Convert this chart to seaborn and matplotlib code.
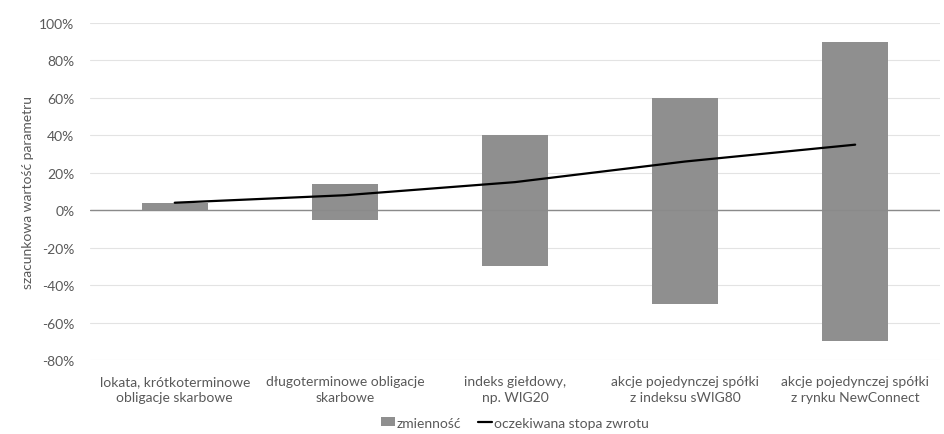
import numpy as np
import pandas as pd
import matplotlib
matplotlib.use("Agg")
import matplotlib.pyplot as plt
from matplotlib.patches import Patch
from matplotlib.lines import Line2D
import seaborn as sns

categories = [
    "lokata, krótkoterminowe\nobligacje skarbowe",
    "długoterminowe obligacje\nskarbowe",
    "indeks giełdowy,\nnp. WIG20",
    "akcje pojedynczej spółki\nz indeksu sWIG80",
    "akcje pojedynczej spółki\nz rynku NewConnect",
]
range_low = [0, -5, -30, -50, -70]
range_high = [4, 14, 40, 60, 90]
expected_return = [4, 8, 15, 26, 35]
y_ticks = [-80, -60, -40, -20, 0, 20, 40, 60, 80, 100]

sns.set_theme(style="white")
plt.rcParams["font.family"] = ["Lato", "DejaVu Sans"]

text_color = "#595959"
bar_color = "#8f8f8f"
fs = 10

df = pd.DataFrame({
    "kategoria": categories,
    "low": range_low,
    "span": np.array(range_high) - np.array(range_low),
    "ret": expected_return,
})

fig, ax = plt.subplots(figsize=(9.44, 4.35), dpi=100)
fig.subplots_adjust(left=0.095, right=0.996, top=0.945, bottom=0.170)

for t in y_ticks:
    ax.axhline(t, color="#e3e3e3", lw=0.8, zorder=0)
ax.axhline(0, color="#8a8a8a", lw=1.0, zorder=3)

sns.barplot(data=df, x="kategoria", y="span", bottom=df["low"].values,
            color=bar_color, saturation=1, width=0.39, errorbar=None,
            ax=ax, zorder=2, linewidth=0)

sns.lineplot(x=np.arange(len(categories)), y=df["ret"], color="black",
             lw=1.6, ax=ax, zorder=4)

ax.set_ylim(-80, 100)
ax.set_xlim(-0.5, len(categories) - 0.5)
ax.set_yticks(y_ticks)
ax.set_yticklabels([f"{t}%" for t in y_ticks])
ax.set_xlabel("")
ax.set_ylabel("szacunkowa wartość parametru", fontsize=fs, color=text_color, labelpad=4)
ax.tick_params(axis="both", labelsize=fs, colors=text_color, length=0)
ax.tick_params(axis="y", pad=11)
ax.tick_params(axis="x", pad=11)
for lbl in ax.get_xticklabels():
    lbl.set_multialignment("center")
    lbl.set_linespacing(1.35)
for s in ax.spines.values():
    s.set_visible(False)

handles = [
    Patch(facecolor=bar_color, edgecolor="none"),
    Line2D([0], [0], color="black", lw=1.6),
]
ax.legend(handles, ["zmienność", "oczekiwana stopa zwrotu"], loc="center",
          ncol=2, frameon=False, fontsize=fs, labelcolor=text_color,
          bbox_to_anchor=(0.5, -0.186), handlelength=1.0, handleheight=0.6,
          handletextpad=0.15, columnspacing=1.2, borderpad=0.1)

fig.savefig("out.png", dpi=100, facecolor="white")
